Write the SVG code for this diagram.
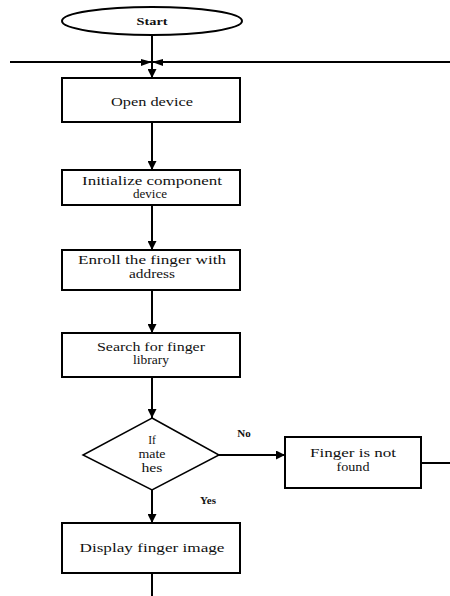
<svg xmlns="http://www.w3.org/2000/svg" width="450" height="596" viewBox="0 0 450 596">
<style>
.box{fill:#fff;stroke:#000;stroke-width:2}
text{font-family:'Liberation Serif','DejaVu Serif','Times New Roman',serif;font-size:11.5px;fill:#111;text-anchor:middle}
.b{font-weight:bold;font-size:11px}
.c{stroke:#000;stroke-width:2;fill:none}
</style>
<defs>
<marker id="ah" viewBox="0 0 10 10" refX="10" refY="5" markerWidth="4.5" markerHeight="4.5" orient="auto" markerUnits="strokeWidth">
<path d="M0,0 L10,5 L0,10 z" fill="#000"/>
</marker>
</defs>
<rect width="450" height="596" fill="#fff"/>
<g id="connectors">
<line class="c" x1="10" y1="62" x2="450" y2="62"/>
<line class="c" x1="152" y1="35" x2="152" y2="78" marker-end="url(#ah)"/>
<path d="M141,59 L152,62 L141,66 z M163,59 L152,62 L163,66 z" fill="#000"/>
<line class="c" x1="152" y1="122" x2="152" y2="170" marker-end="url(#ah)"/>
<line class="c" x1="152" y1="205" x2="152" y2="250" marker-end="url(#ah)"/>
<line class="c" x1="152" y1="290" x2="152" y2="333" marker-end="url(#ah)"/>
<line class="c" x1="152" y1="377" x2="152" y2="418" marker-end="url(#ah)"/>
<line class="c" x1="219" y1="455" x2="285" y2="455" marker-end="url(#ah)"/>
<line class="c" x1="421" y1="463" x2="450" y2="463"/>
<line class="c" x1="152" y1="490" x2="152" y2="523" marker-end="url(#ah)"/>
<line class="c" x1="152" y1="573" x2="152" y2="596"/>
<text class="b" x="244" y="437">No</text>
<text class="b" x="208" y="504">Yes</text>
</g>
<g id="start">
<ellipse cx="152" cy="21" rx="90" ry="14" fill="#fff" stroke="#000" stroke-width="2"/>
<text class="b" x="152" y="25" textLength="31" lengthAdjust="spacingAndGlyphs">Start</text>
</g>
<g id="open">
<rect class="box" x="62" y="78" width="178" height="44"/>
<text x="152" y="106" textLength="82" lengthAdjust="spacingAndGlyphs">Open device</text>
</g>
<g id="init">
<rect class="box" x="62" y="170" width="178" height="35"/>
<text x="152" y="185" textLength="140" lengthAdjust="spacingAndGlyphs">Initialize  component</text>
<text x="150" y="198" textLength="34" lengthAdjust="spacingAndGlyphs">device</text>
</g>
<g id="enroll">
<rect class="box" x="62" y="250" width="178" height="40"/>
<text x="152" y="264" textLength="148" lengthAdjust="spacingAndGlyphs">Enroll the finger with</text>
<text x="152" y="278" textLength="46" lengthAdjust="spacingAndGlyphs">address</text>
</g>
<g id="search">
<rect class="box" x="62" y="333" width="178" height="44"/>
<text x="151" y="351" textLength="108" lengthAdjust="spacingAndGlyphs">Search for finger</text>
<text x="151" y="364" textLength="36" lengthAdjust="spacingAndGlyphs">library</text>
</g>
<g id="decision">
<polygon points="152,418 219,455 152,490 83,455" fill="#fff" stroke="#000" stroke-width="1.5"/>
<text x="152" y="444">If</text>
<text x="152" y="458" textLength="27" lengthAdjust="spacingAndGlyphs">mate</text>
<text x="152" y="472" textLength="21" lengthAdjust="spacingAndGlyphs">hes</text>
</g>
<g id="notfound">
<rect class="box" x="285" y="437" width="136" height="51"/>
<text x="353" y="457" textLength="86" lengthAdjust="spacingAndGlyphs">Finger is not</text>
<text x="353" y="471" textLength="33" lengthAdjust="spacingAndGlyphs">found</text>
</g>
<g id="display">
<rect class="box" x="62" y="523" width="178" height="50"/>
<text x="152" y="552" textLength="145" lengthAdjust="spacingAndGlyphs">Display  finger image</text>
</g>
</svg>
